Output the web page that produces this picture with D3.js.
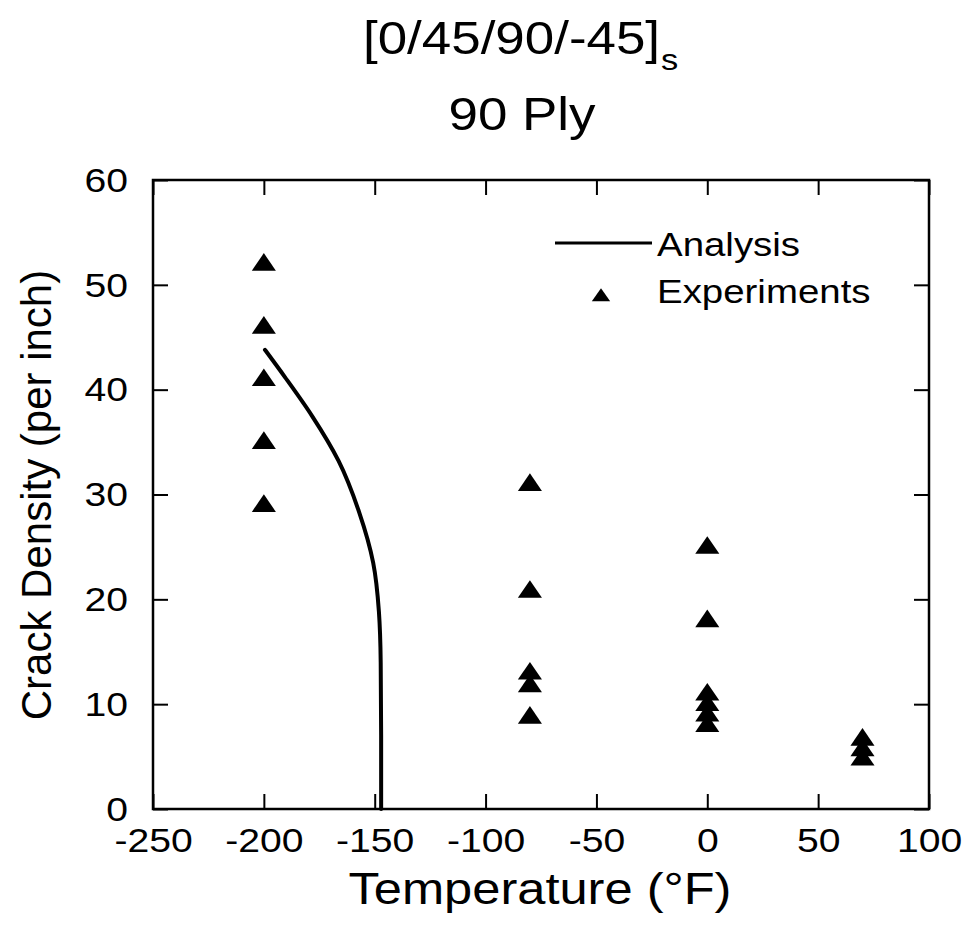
<!DOCTYPE html>
<html>
<head>
<meta charset="utf-8">
<script src="https://cdn.jsdelivr.net/npm/d3@7"></script>
<style>
  body { margin: 0; background: #fff; }
  text { font-family: "Liberation Sans", Arial, Helvetica, sans-serif; fill: #000; }
</style>
</head>
<body>
<svg id="chart" width="964" height="932"></svg>
<script>
// analysis curve (temperature, crack density)
var analysisTemp = [-199.5, -190.5, -178.3, -166.3, -157.0, -150.7, -148.1, -147.3, -147.1, -147.1];
var analysisDensity = [43.8, 41.2, 37.5, 33.2, 28.3, 23.5, 18.8, 14.0, 7.0, 0];

// experimental points
var expTemp = [-200, -200, -200, -200, -200, -80, -80, -80, -80, -80, 0, 0, 0, 0, 0, 0, 70, 70, 70];
var expDensity = [52, 46, 41, 35, 29, 31, 20.8, 13, 11.8, 8.8, 25, 18, 11, 10, 9, 8, 6.7, 5.7, 4.8];

var xTicks = [-250, -200, -150, -100, -50, 0, 50, 100];
var yTicks = [0, 10, 20, 30, 40, 50, 60];

var svg = d3.select("#chart");
var plotLeft = 153, plotRight = 929, plotTop = 180, plotBottom = 809;
var tickLen = 15;
var wide = 1.15; // the lettering in the original is set a little wide

var x = d3.scaleLinear().domain([-250, 100]).range([plotLeft, plotRight]);
var y = d3.scaleLinear().domain([0, 60]).range([plotBottom, plotTop]);
var fmt = function(d) { return String(d); };

function stretch(sel, k) {
  sel.each(function() {
    var w = this.getComputedTextLength();
    d3.select(this).attr("textLength", w * k).attr("lengthAdjust", "spacingAndGlyphs");
  });
}

// title
svg.append("text").attr("x", 363).attr("y", 54).style("font-size", "46px")
  .text("[0/45/90/-45]").call(stretch, wide);
svg.append("text").attr("x", 661).attr("y", 70).style("font-size", "30px")
  .text("s").call(stretch, wide);
svg.append("text").attr("x", 522).attr("y", 130).attr("text-anchor", "middle")
  .style("font-size", "46px").text("90 Ply").call(stretch, wide);

// axes, ticks inward on all four sides
function styleAxis(g, showText) {
  g.select(".domain").remove();
  g.selectAll(".tick line").attr("stroke", "#000").attr("stroke-width", 2);
  if (!showText) { g.selectAll(".tick text").remove(); return; }
  g.selectAll(".tick text").style("font-size", "34px").attr("fill", "#000")
    .style("font-family", "'Liberation Sans', Arial, sans-serif")
    .call(stretch, wide);
}
var xAxis = svg.append("g").attr("transform", "translate(0," + plotBottom + ")")
  .call(d3.axisBottom(x).tickValues(xTicks).tickSizeInner(-tickLen).tickSizeOuter(0).tickPadding(19).tickFormat(fmt));
var yAxis = svg.append("g").attr("transform", "translate(" + plotLeft + ",0)")
  .call(d3.axisLeft(y).tickValues(yTicks).tickSizeInner(-tickLen).tickSizeOuter(0).tickPadding(25).tickFormat(fmt));
var xTop = svg.append("g").attr("transform", "translate(0," + plotTop + ")")
  .call(d3.axisTop(x).tickValues(xTicks).tickSizeInner(-tickLen).tickSizeOuter(0));
var yRight = svg.append("g").attr("transform", "translate(" + plotRight + ",0)")
  .call(d3.axisRight(y).tickValues(yTicks).tickSizeInner(-tickLen).tickSizeOuter(0));
styleAxis(xAxis, true);
styleAxis(yAxis, true);
styleAxis(xTop, false);
styleAxis(yRight, false);
yAxis.selectAll(".tick text").attr("dy", "0.33em");

// frame
svg.append("rect").attr("x", plotLeft).attr("y", plotTop)
  .attr("width", plotRight - plotLeft).attr("height", plotBottom - plotTop)
  .attr("fill", "none").attr("stroke", "#000").attr("stroke-width", 2.5);

// axis labels
svg.append("text").attr("x", 540).attr("y", 904).attr("text-anchor", "middle")
  .style("font-size", "44px").text("Temperature (°F)").call(stretch, wide);
svg.append("text").attr("transform", "translate(51,495) rotate(-90)").attr("text-anchor", "middle")
  .style("font-size", "42px").text("Crack Density (per inch)");

// analysis line, x is a function of y so interpolate along y
var line = d3.line().x(function(d) { return x(d[0]); }).y(function(d) { return y(d[1]); })
  .curve(d3.curveMonotoneY);
var analysis = analysisTemp.map(function(t, i) { return [t, analysisDensity[i]]; });
svg.append("path").datum(analysis).attr("d", line)
  .attr("fill", "none").attr("stroke", "#000").attr("stroke-width", 4).attr("stroke-linecap", "round");

// experiments
var tri = d3.symbol().type(d3.symbolTriangle).size(200);
expTemp.forEach(function(t, i) {
  svg.append("path").attr("d", tri)
    .attr("transform", "translate(" + x(t) + "," + (y(expDensity[i]) + 1) + ") scale(1.12,0.95)")
    .attr("fill", "#000");
});

// legend
svg.append("line").attr("x1", 555).attr("x2", 652).attr("y1", 243).attr("y2", 243)
  .attr("stroke", "#000").attr("stroke-width", 3);
svg.append("text").attr("x", 657).attr("y", 256).style("font-size", "34px").text("Analysis").call(stretch, 1.13);
svg.append("path").attr("d", d3.symbol().type(d3.symbolTriangle).size(120))
  .attr("transform", "translate(601,297) scale(1.1,0.9)").attr("fill", "#000");
svg.append("text").attr("x", 657).attr("y", 303).style("font-size", "34px").text("Experiments").call(stretch, 1.13);
</script>
</body>
</html>
